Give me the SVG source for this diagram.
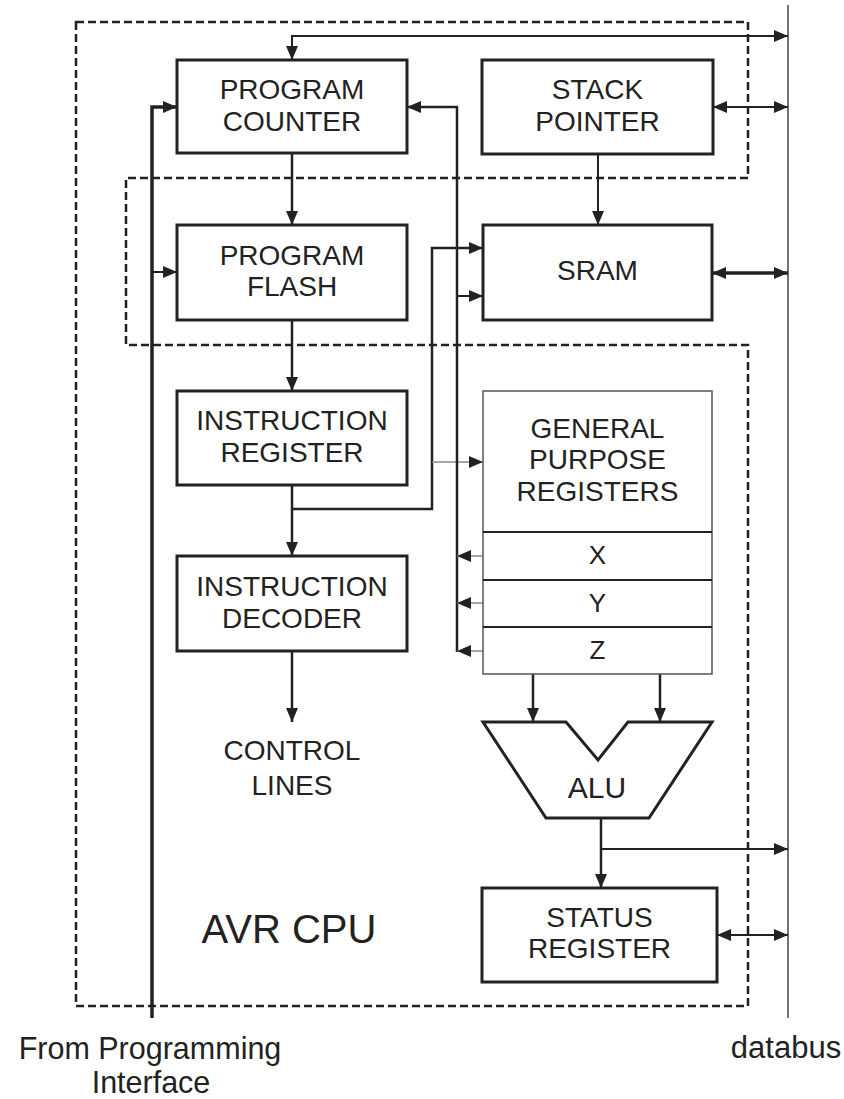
<svg xmlns="http://www.w3.org/2000/svg" width="844" height="1099" viewBox="0 0 844 1099">
<style>
  text { font-family: "Liberation Sans", Arial, sans-serif; fill: #222; text-anchor: middle; }
  .lbl { font-size: 28px; }
  .box { fill: #fff; stroke: #222; stroke-width: 3; }
  .gpr { fill: #fff; stroke: #555; stroke-width: 1.5; }
  .div { stroke: #222; stroke-width: 2; }
  .dash { fill: none; stroke: #222; stroke-width: 2.5; stroke-dasharray: 8 4; }
  .w { fill: none; stroke: #222; stroke-width: 2.5; }
  .wt { fill: none; stroke: #222; stroke-width: 3.5; }
  .wn { fill: none; stroke: #222; stroke-width: 2; }
  .g { fill: none; stroke: #888; stroke-width: 1.5; }
  .bus { fill: none; stroke: #444; stroke-width: 1.5; }
</style>
<defs>
  <marker id="ah" viewBox="0 0 14 12" refX="14" refY="6" markerWidth="14" markerHeight="12" markerUnits="userSpaceOnUse" orient="auto-start-reverse">
    <path d="M0,0 L14,6 L0,12 z" fill="#222"/>
  </marker>
  <marker id="ahs" viewBox="0 0 14 12" refX="14" refY="6" markerWidth="14" markerHeight="12" markerUnits="userSpaceOnUse" orient="auto-start-reverse">
    <path d="M0,0 L14,6 L0,12 z" fill="#222"/>
  </marker>
</defs>

<g id="cpu-boundary">
  <path class="dash" d="M76,22 H748 V178 H126 V345 H748 V1006 H76 Z"/>
</g>

<g id="connectors">
  <line class="bus" x1="788" y1="5" x2="788" y2="1018"/>
  <!-- top bus to PC -->
  <path class="wn" d="M788,36 H292 V60" marker-end="url(#ah)"/>
  <line class="wn" x1="292" y1="36" x2="788" y2="36" marker-end="url(#ah)"/>
  <!-- programming interface -->
  <path class="wt" d="M152,1018 V107 H177" marker-end="url(#ah)"/>
  <line class="wn" x1="152" y1="272" x2="177" y2="272" marker-end="url(#ah)"/>
  <!-- PC to flash -->
  <line class="w" x1="292" y1="153" x2="292" y2="225" marker-end="url(#ah)"/>
  <!-- flash to IR -->
  <line class="w" x1="292" y1="320" x2="292" y2="391" marker-end="url(#ah)"/>
  <!-- IR to ID -->
  <line class="w" x1="292" y1="485" x2="292" y2="556" marker-end="url(#ah)"/>
  <!-- ID to control lines -->
  <line class="w" x1="292" y1="651" x2="292" y2="722" marker-end="url(#ah)"/>
  <!-- IR branch to SRAM -->
  <path class="w" d="M292,509 H432 V248 H483" marker-end="url(#ah)"/>
  <line class="g" x1="432" y1="462" x2="483" y2="462" marker-end="url(#ahs)"/>
  <!-- address bus x=457 -->
  <path class="w" d="M457,652 V107 H407" marker-end="url(#ah)"/>
  <line class="wn" x1="457" y1="296" x2="483" y2="296" marker-end="url(#ah)"/>
  <line class="g" x1="483" y1="556" x2="457" y2="556" marker-end="url(#ahs)"/>
  <line class="g" x1="483" y1="603" x2="457" y2="603" marker-end="url(#ahs)"/>
  <line class="g" x1="483" y1="651" x2="457" y2="651" marker-end="url(#ahs)"/>
  <!-- SP -->
  <line class="wn" x1="713" y1="107" x2="788" y2="107" marker-start="url(#ah)" marker-end="url(#ah)"/>
  <line class="wn" x1="598" y1="154" x2="598" y2="225" marker-end="url(#ah)"/>
  <!-- SRAM to bus -->
  <line class="wt" x1="712" y1="273" x2="788" y2="273" marker-start="url(#ah)" marker-end="url(#ah)"/>
  <!-- GPR to ALU -->
  <line class="w" x1="533" y1="674" x2="533" y2="722" marker-end="url(#ah)"/>
  <line class="w" x1="660" y1="674" x2="660" y2="722" marker-end="url(#ah)"/>
  <!-- ALU out -->
  <line class="w" x1="601" y1="818" x2="601" y2="888" marker-end="url(#ah)"/>
  <line class="wn" x1="601" y1="849" x2="788" y2="849" marker-end="url(#ah)"/>
  <!-- SR to bus -->
  <line class="wn" x1="717" y1="935" x2="788" y2="935" marker-start="url(#ah)" marker-end="url(#ah)"/>
</g>

<g id="program-counter">
  <rect class="box" x="177" y="60" width="230" height="93"/>
  <text class="lbl" x="292" y="99">PROGRAM</text>
  <text class="lbl" x="292" y="131">COUNTER</text>
</g>
<g id="stack-pointer">
  <rect class="box" x="482" y="60" width="231" height="94"/>
  <text class="lbl" x="597.5" y="99">STACK</text>
  <text class="lbl" x="597.5" y="131">POINTER</text>
</g>
<g id="program-flash">
  <rect class="box" x="177" y="225" width="230" height="95"/>
  <text class="lbl" x="292" y="265">PROGRAM</text>
  <text class="lbl" x="292" y="296">FLASH</text>
</g>
<g id="sram">
  <rect class="box" x="483" y="225" width="229" height="95"/>
  <text class="lbl" x="597.5" y="280">SRAM</text>
</g>
<g id="instruction-register">
  <rect class="box" x="177" y="391" width="230" height="94"/>
  <text class="lbl" x="292" y="430">INSTRUCTION</text>
  <text class="lbl" x="292" y="462">REGISTER</text>
</g>
<g id="instruction-decoder">
  <rect class="box" x="177" y="556" width="230" height="95"/>
  <text class="lbl" x="292" y="596">INSTRUCTION</text>
  <text class="lbl" x="292" y="628">DECODER</text>
</g>
<g id="control-lines">
  <text class="lbl" x="292" y="760">CONTROL</text>
  <text class="lbl" x="292" y="795">LINES</text>
</g>
<g id="general-purpose-registers">
  <rect class="gpr" x="483" y="391" width="229" height="283"/>
  <line class="div" x1="483" y1="532" x2="712" y2="532"/>
  <line class="div" x1="483" y1="580" x2="712" y2="580"/>
  <line class="div" x1="483" y1="627" x2="712" y2="627"/>
  <text class="lbl" x="597.5" y="438">GENERAL</text>
  <text class="lbl" x="597.5" y="469">PURPOSE</text>
  <text class="lbl" x="597.5" y="501">REGISTERS</text>
  <text class="lbl" x="597.5" y="564" style="font-size:26px">X</text>
  <text class="lbl" x="597.5" y="612" style="font-size:26px">Y</text>
  <text class="lbl" x="597.5" y="659" style="font-size:26px">Z</text>
</g>
<g id="alu">
  <path class="box" d="M483,722 H566 L598,760 L628,722 H712 L649,818 H546 Z"/>
  <text class="lbl" x="597" y="798" style="font-size:30px">ALU</text>
</g>
<g id="status-register">
  <rect class="box" x="482" y="888" width="235" height="94"/>
  <text class="lbl" x="599.5" y="927">STATUS</text>
  <text class="lbl" x="599.5" y="958">REGISTER</text>
</g>
<g id="labels">
  <text x="289" y="943" style="font-size:40px">AVR CPU</text>
  <text x="150" y="1059" style="font-size:30.5px">From Programming</text>
  <text x="151" y="1093" style="font-size:30.5px">Interface</text>
  <text x="786" y="1058" style="font-size:31px">databus</text>
</g>
</svg>
